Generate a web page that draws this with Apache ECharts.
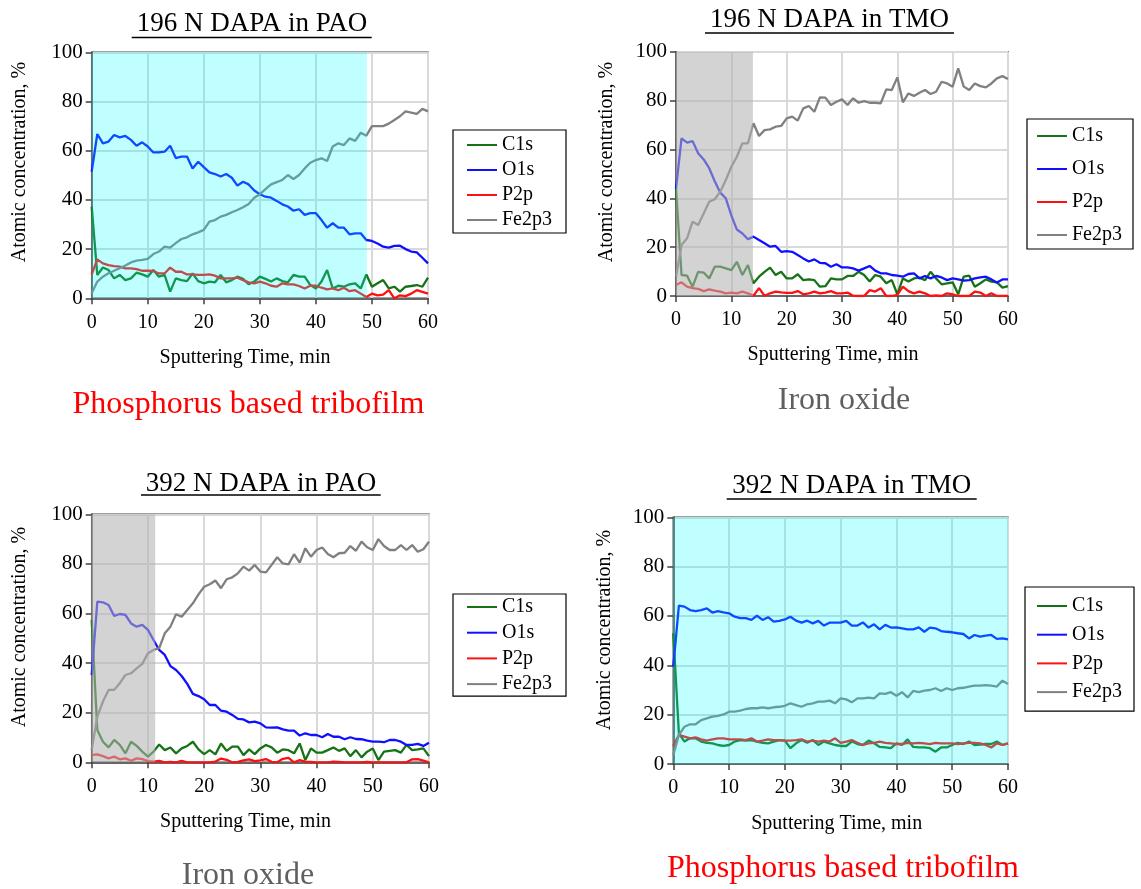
<!DOCTYPE html>
<html><head><meta charset="utf-8">
<script src="https://cdn.jsdelivr.net/npm/echarts@6/dist/echarts.min.js"></script>
<style>html,body{margin:0;padding:0;background:#fff}#c{width:1141px;height:889px}</style>
</head><body><div id="c"></div>
<script>
// ---- data ----
const times = [0,1,2,3,4,5,6,7,8,9,10,11,12,13,14,15,16,17,18,19,20,21,22,23,24,25,26,27,28,29,30,
  31,32,33,34,35,36,37,38,39,40,41,42,43,44,45,46,47,48,49,50,51,52,53,54,55,56,57,58,59,60];
const xTicks = [0,10,20,30,40,50,60];
const yTicks = [0,20,40,60,80,100];
const seriesNames = ['C1s','O1s','P2p','Fe2p3'];
const panelTitles = ['196 N DAPA in PAO','196 N DAPA in TMO','392 N DAPA in PAO','392 N DAPA in TMO'];
const panelNotes = ['Phosphorus based tribofilm','Iron oxide','Iron oxide','Phosphorus based tribofilm'];
const shadeEnd = [49.1, 13.9, 11.3, 60];

// 196 N DAPA in PAO
const pao196_C1s = [37.3,9.5,12.5,11.5,8.1,9.5,7.4,8.1,10.4,9.7,8.8, 11.5,8.8,9.5,2.7,8.1,7.4,7,10.1,7,6.1, 6.8,6.5,9.5,6.5,7.4,8.8,7.9,5.7,6.8,8.8, 7.9,6.8,8.1,7,6.5,9.5,8.8,8.8,5.4,4, 6.8,11.5,4,5.1,4.7,5.7,6.1,4,9.7,4.7, 6.1,7.4,4,4.7,2.7,4.7,5,5.4,4.7,8.4];
const pao196_O1s = [51.5,66.8,63,63.7,66.4,65.4,66,64.4,62,63.4,61.7, 59.3,59.3,59.6,62,57,57.6,57.6,52.8,55.5,53.3, 51.2,50.5,49.5,50.5,49,45.8,47.4,46.3,43.8,42.3, 41.3,40.9,39.6,38.2,37.3,35.6,36.2,33.9,34.6,34.6, 31.8,28.7,30.5,28.7,28.7,26,26.4,26.4,23.7,23.3, 22.3,21,20.6,21.3,21.4,20,19,18.7,16.5,14.2];
const pao196_P2p = [9.7,15.8,14.2,13.5,13.1,12.9,12.2,12.2,11.9,11.2,11.2, 11.1,10.1,10.1,12.5,10.8,10.8,9.7,9.7,9.5,9.5, 9.7,9.2,8.1,8.1,8.1,8.4,7.4,6.5,6.1,6.8, 6.1,5.1,4.7,6.1,5.7,5.7,5,4,5.1,5.1, 4.3,3.6,4,3.3,4.3,2.9,3.3,1.9,0.5,1.9, 1.2,1.5,3.3,0,1.2,0.9,1.9,3.3,2.6,1.9];
const pao196_Fe = [2,6.8,8.8,10.2,11.2,12.2,13.3,14.6,15.3,15.6,16, 18,19,21,20.6,22.4,24.1,24.8,26,26.8,27.8, 31.2,31.8,33.2,33.9,35,35.9,37,38.3,40.9,42.3, 44.4,46.3,47.2,48.1,50.1,48.5,50.1,52.8,55.1,56.2, 56.9,55.8,61.7,63,62.3,65,64,67.3,66.1,70, 70,70,71,72.5,74,76,75.5,75,77,76];

// 196 N DAPA in TMO
const tmo196_C1s = [44,8.6,8.3,3.8,9.9,9.6,7.2,12,12,11.3,10.6, 14,8.6,12.7,5.2,7.9,9.9,11.6,8.6,9.9,7.2, 7.2,8.9,6.5,6.8,6.5,3.8,4,7.2,6.8,6.8, 8.2,8.2,9.9,8.6,5.9,8.6,7.9,5.2,6.5,0.7, 7.2,5.9,7.2,7.5,6.5,9.9,7.2,4.8,5.2,5.6, 0.7,7.9,8.3,3.8,5.2,6.8,5.9,5.6,3.4,4];
const tmo196_O1s = [44,64.5,62.8,63.4,58.4,55.9,52.3,47,42.3,40,33, 27.2,25.6,23.2,24.3,22.9,21.6,20.2,20.5,18.1,18.4, 18.1,16.8,15.4,14.1,15,13.6,13.4,12,13,11.7, 11.7,11.3,10.4,11.3,12.3,10.4,9.3,9.3,8.6,8.3, 7.9,9,9.3,7.2,8.2,7.2,8.2,7.6,6.5,7.2, 6.8,6.3,6.5,7.2,7.6,7.9,6.8,5.5,6.8,6.8];
const tmo196_P2p = [4.5,5.6,3.8,3.2,2.9,2,2.7,2.2,1.8,1.1,1.4, 1.1,1.8,1.1,0.1,3.2,0.1,1.1,1.8,1.5,1.3, 1.3,2,0.7,1.1,1.8,1.1,1.4,2,1.1,1.1, 1.4,0.1,0,0,2.4,1.8,3.2,0,0,0.5, 3.8,2,1.1,1.8,1.1,0,0.3,0,1.1,0.7, 0,0,0,1.8,1.4,0,1.1,0,0,0];
const tmo196_Fe = [7.9,20.9,23.6,30.4,29.1,33.8,38.6,39.6,42.7,47.5,52.9, 57,62.5,62.5,70.7,65.5,67.9,68.2,69.3,69.6,72.7, 73.4,71.8,76.8,77.8,75.4,81.3,81.2,78.2,79.5,80.5, 78.2,80.9,79.1,79.8,79.1,79.1,78.9,84.6,84.3,89.5, 79.3,82.9,81.9,83.2,84.3,82.7,83.6,87.7,87,85.7, 93.2,85.7,84.3,87,85.9,85.4,87,89.1,90,88.8];

// 392 N DAPA in PAO
const pao392_C1s = [57.4,13,8.3,6,9,7,3.6,8.3,6.6,4.3,2.3, 4.3,7.2,4.9,6,3.6,5.6,6.6,8.3,5.2,3.3, 4.9,3.2,7.6,4.6,6.3,6.3,2.9,5.2,3.3,5.6, 7,6,3.9,5.2,4.9,3.6,7.6,0.9,5.6,3.9, 3.9,4.9,6,4.6,5.6,2.5,4.9,2,4.3,5.6, 0.9,4.3,4.6,4.9,3.9,7,4.9,5.2,5.6,2.5];
const pao392_O1s = [35.2,64.8,64.5,63.4,59,59.8,59.4,56,54.7,55.4,53.4, 49.3,45.3,43.3,38.8,37.2,34.8,31.6,27.6,26.7,25.4, 23.1,23.1,20.8,20.4,19.1,17.5,17.3,16.1,16.4,15.7, 14.1,14,14.1,13.3,12.8,12.8,10.8,11.7,11,11, 10.1,11.4,10.3,10.3,9.3,10.1,9.4,9.3,8.7,8.3, 8.3,8.1,9,9,8.3,7,7,7.4,6.6,7.9];
const pao392_P2p = [2.9,3.2,2.5,1.6,2.3,1.2,1.6,0.6,1.6,1.3,0.5, 0.3,0.6,0,0.2,0,0.6,0,0,0,0, 0,0.3,1.5,1,0,0.2,0.8,1.2,0.5,0.8, 1.3,0.2,0,1.4,1.8,0,0.9,0.3,0.2,0, 0,0,0.3,0.2,0,0,0,0,0.2,0, 0,0,0,0,0,0,1.2,1.3,0.7,0];
const pao392_Fe = [5,18.4,24.5,29.2,29.2,31.9,35.2,35.9,37.9,39.7,44, 45.3,46,52,54.7,59.7,58.7,61.4,64.1,67.7,70.8, 71.8,73.3,70.2,73.8,74.6,76.2,78.9,77.3,79.6,76.9, 76.6,79.6,82.7,80.2,79.8,83.9,80.5,86.3,82.9,85.6, 86.6,84,82.7,84.3,84.5,87.2,85.3,89,86.7,85.6, 90,87.2,85.6,85.6,87.6,85.6,87.6,84.9,85.9,89];

// 392 N DAPA in TMO
const tmo392_C1s = [53,12.4,9.1,10.4,10.4,9.1,8.6,8.4,7.7,7.3,7.7, 9.1,9.7,9.5,9.7,9.1,8.6,8.4,9.1,9.7,9.5, 6.4,8.4,9.7,8.6,9.7,7.7,9.1,8.4,7.7,7.3, 7.3,9.1,8.1,7.7,9.5,8.4,6.9,6.7,6.4,8.4, 7.7,10,6.9,6.7,6.7,6.4,5,6.7,6.7,7.7, 8.6,8.1,9.1,7.7,7.9,8.1,8.1,9.1,7.7,8.4];
const tmo392_O1s = [39.5,64.2,63.8,62.4,62,62.4,63.1,61.4,62,61.5,61.1, 59.7,59.1,59.1,58.4,60.1,58.4,59.5,57.7,58,58.6, 59.7,58.1,57.3,58.1,57,58,56.1,57.3,57.3,57.3, 58,56.1,56.1,57.4,55.3,56.6,54.6,56.4,55.3,55.4, 55,54.6,54.6,55.4,53.6,55.3,55,53.9,53.6,53.4, 53,52.7,50.9,52.3,51.6,52,52.3,50.7,50.9,50.5];
const tmo392_P2p = [7.3,11.8,11.1,10.4,10.8,10,9.5,10,10.4,10.4,10, 10,10,9.7,10.4,9.1,9.5,10,9.7,9.7,9.5, 9.5,9.7,10,9.1,9.5,9.1,9.5,9.1,10.4,8.6, 9.1,9.7,8.6,7.7,8.4,8.6,9.1,8.6,8.4,8.1, 8.1,8.6,8.4,8.6,8.4,8.1,8.6,8.4,8.4,8.4, 8.1,8.4,8.6,8.6,8.4,7.7,6.7,8.4,7.7,8.4];
const tmo392_Fe = [3.6,11.8,15.1,16.1,16.1,17.8,18.5,19.2,19.5,20.1,21.2, 21.2,21.6,22.3,22.6,22.6,23,22.6,23,23.2,23.6, 24.6,23.9,23.2,24.2,24.6,25.3,25.3,25.7,24.6,26.6, 26.2,25,26.6,26.6,26.9,26.6,28.6,28.4,29.1,27.7, 29.1,27,29.6,29.1,29.7,30,30.7,29.6,30.7,30, 30.7,30.9,31.4,31.8,31.8,32,31.8,31.4,33.8,32.4];

const panelData = [
  [pao196_C1s, pao196_O1s, pao196_P2p, pao196_Fe],
  [tmo196_C1s, tmo196_O1s, tmo196_P2p, tmo196_Fe],
  [pao392_C1s, pao392_O1s, pao392_P2p, pao392_Fe],
  [tmo392_C1s, tmo392_O1s, tmo392_P2p, tmo392_Fe]
];

// ---- styles / layout ----
const FONT = '"Liberation Serif", "Times New Roman", serif';
const colors = ['#157315', '#1010FF', '#FF1010', '#808080'];
const shadeColors = ['rgba(0,255,255,0.25)', 'rgba(177,177,177,0.57)', 'rgba(177,177,177,0.57)', 'rgba(0,255,255,0.25)'];
const grids = [
  {left: 91.7, top: 52.3, width: 336.3, height: 246},
  {left: 676, top: 51.7, width: 332, height: 244.3},
  {left: 91.7, top: 514.3, width: 337.3, height: 248},
  {left: 673.3, top: 517.3, width: 334.7, height: 246.7}
];
const legendPos = [
  {left: 453, top: 130, padding: [5, 14, 3, 14], itemGap: 5},
  {left: 1027, top: 119, padding: [7, 11, 4, 10], itemGap: 13},
  {left: 453, top: 594, padding: [3, 14, 2, 14], itemGap: 5.7},
  {left: 1025, top: 587, padding: [9, 12, 9, 12], itemGap: 8.7}
];
const titlePos = [
  {cx: 252, y: 24, u: [131.7, 371.7, 37.5]},
  {cx: 829.5, y: 20, u: [705, 954, 33]},
  {cx: 261, y: 484, u: [141, 380.7, 495]},
  {cx: 851.7, y: 486, u: [726.7, 976.7, 499]}
];
const notePos = [
  {cx: 248.5, y: 405, color: '#FF0000'},
  {cx: 844, y: 401, color: '#5f5f5f'},
  {cx: 248, y: 876, color: '#5f5f5f'},
  {cx: 843, y: 869, color: '#FF0000'}
];
const xNamePos = [{cx: 245, y: 358}, {cx: 833, y: 355}, {cx: 245.5, y: 822}, {cx: 836.7, y: 824}];
const yNamePos = [{x: 20, cy: 162}, {x: 607, cy: 162}, {x: 20, cy: 627}, {x: 605, cy: 630}];

const option = {
  animation: false,
  backgroundColor: '#ffffff',
  grid: [], xAxis: [], yAxis: [], series: [], legend: [], graphic: []
};

for (let p = 0; p < 4; p++) {
  option.grid.push(Object.assign({show: true, borderColor: '#404040', borderWidth: 1.5, backgroundColor: 'transparent'}, grids[p]));
  option.xAxis.push({
    gridIndex: p, type: 'value', min: xTicks[0], max: xTicks[xTicks.length - 1], interval: xTicks[1] - xTicks[0],
    axisLine: {show: true, onZero: false, lineStyle: {color: '#404040', width: 1.5}},
    axisTick: {show: true, length: 6, lineStyle: {color: '#404040', width: 1.5}},
    axisLabel: {fontFamily: FONT, fontSize: 20, color: '#000', margin: 14},
    splitLine: {show: true, lineStyle: {color: '#d9d9d9', width: 2}}
  });
  option.yAxis.push({
    gridIndex: p, type: 'value', min: yTicks[0], max: yTicks[yTicks.length - 1], interval: yTicks[1] - yTicks[0],
    axisLine: {show: true, onZero: false, lineStyle: {color: '#404040', width: 1.5}},
    axisTick: {show: true, length: 6, lineStyle: {color: '#404040', width: 1.5}},
    axisLabel: {fontFamily: FONT, fontSize: 21, color: '#000', margin: 9},
    splitLine: {show: true, lineStyle: {color: '#d9d9d9', width: 2}}
  });
  for (let s = 0; s < 4; s++) {
    const vals = panelData[p][s];
    option.series.push({
      name: seriesNames[s], type: 'line', xAxisIndex: p, yAxisIndex: p,
      data: times.map((t, i) => [t, vals[i]]),
      showSymbol: false, symbol: 'none', z: 2,
      color: colors[s],
      itemStyle: {color: colors[s]},
      lineStyle: {color: colors[s], width: 2.3}
    });
  }
  // shaded region drawn above the lines
  option.series.push({
    name: 'shade' + p, type: 'line', xAxisIndex: p, yAxisIndex: p,
    data: [[0, yTicks[yTicks.length - 1]], [shadeEnd[p], yTicks[yTicks.length - 1]]],
    symbol: 'none', showSymbol: false, silent: true, z: 5,
    lineStyle: {width: 0, color: 'transparent'},
    areaStyle: {color: shadeColors[p], opacity: 1},
    tooltip: {show: false}
  });
  option.legend.push(Object.assign({
    data: seriesNames, orient: 'vertical', icon: 'rect', itemWidth: 30, itemHeight: 2,
    borderColor: '#000', borderWidth: 1.2, backgroundColor: '#fff', selectedMode: false,
    textStyle: {fontFamily: FONT, fontSize: 20, color: '#000', lineHeight: 20}
  }, legendPos[p]));
  // title + underline
  option.graphic.push({
    type: 'text', silent: true,
    style: {text: panelTitles[p], x: titlePos[p].cx, y: titlePos[p].y, font: '27px ' + FONT,
      fill: '#000', textAlign: 'center', textVerticalAlign: 'middle', align: 'center', verticalAlign: 'middle'}
  });
  option.graphic.push({
    type: 'line', silent: true,
    shape: {x1: titlePos[p].u[0], y1: titlePos[p].u[2], x2: titlePos[p].u[1], y2: titlePos[p].u[2]},
    style: {stroke: '#000', lineWidth: 1.5}
  });
  // bottom note
  option.graphic.push({
    type: 'text', silent: true,
    style: {text: panelNotes[p], x: notePos[p].cx, y: notePos[p].y, font: '32px ' + FONT,
      fill: notePos[p].color, textAlign: 'center', textVerticalAlign: 'middle', align: 'center', verticalAlign: 'middle'}
  });
  // axis names
  option.graphic.push({
    type: 'text', silent: true,
    style: {text: 'Sputtering Time, min', x: xNamePos[p].cx, y: xNamePos[p].y, font: '20px ' + FONT,
      fill: '#000', textAlign: 'center', textVerticalAlign: 'middle', align: 'center', verticalAlign: 'middle'}
  });
  option.graphic.push({
    type: 'text', silent: true, x: yNamePos[p].x, y: yNamePos[p].cy, rotation: Math.PI / 2,
    style: {text: 'Atomic concentration, %', x: 0, y: 0, font: '20px ' + FONT,
      fill: '#000', textAlign: 'center', textVerticalAlign: 'middle', align: 'center', verticalAlign: 'middle'}
  });
}

const chart = echarts.init(document.getElementById('c'), null, {renderer: 'canvas'});
chart.setOption(option);
</script>
</body></html>
